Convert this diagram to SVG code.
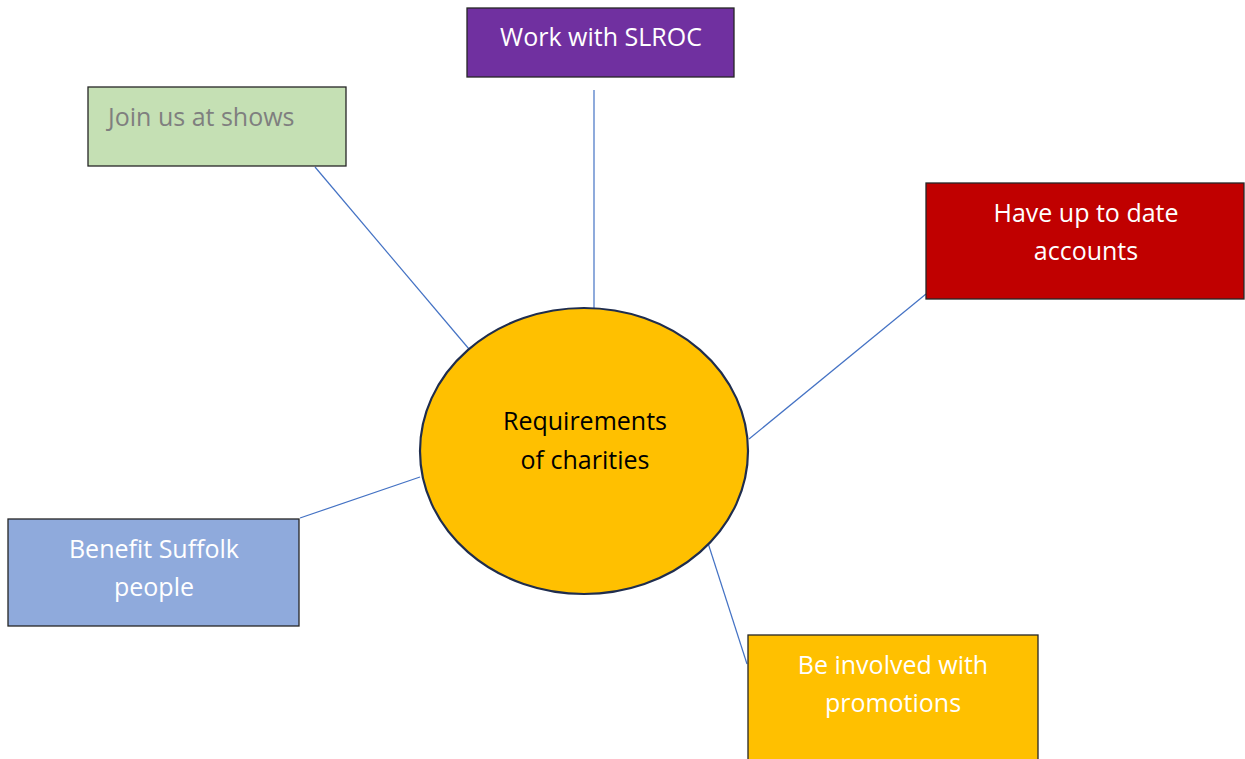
<svg xmlns="http://www.w3.org/2000/svg" width="1245" height="759" viewBox="0 0 1245 759">
<style>
.box{stroke:#262626;stroke-width:1.3}
.t{font-family:"Open Sans","Liberation Sans",sans-serif;font-size:25px;text-anchor:middle}
.w{fill:#ffffff}
.conn line{stroke:#4472c4;stroke-width:1.2}
</style>
<rect x="0" y="0" width="1245" height="759" fill="#ffffff"/>
<g id="connectors" class="conn">
<line x1="315" y1="167" x2="469" y2="349"/>
<line x1="594" y1="90" x2="594" y2="308"/>
<line x1="926" y1="294" x2="749" y2="439"/>
<line x1="300" y1="518" x2="420" y2="477"/>
<line x1="708" y1="543" x2="747" y2="664"/>
</g>
<g id="center">
<ellipse cx="584" cy="451" rx="164" ry="143" fill="#ffc000" stroke="#1f2d4e" stroke-width="2.2"/>
<text class="t" x="585" y="430" fill="#000000">Requirements</text>
<text class="t" x="585" y="469" fill="#000000">of charities</text>
</g>
<g id="work-with-slroc">
<rect class="box" x="467" y="8" width="267" height="69" fill="#7030a0"/>
<text class="t w" x="601" y="46">Work with SLROC</text>
</g>
<g id="join-us-at-shows">
<rect class="box" x="88" y="87" width="258" height="79" fill="#c5e0b4"/>
<text class="t" x="108" y="126" fill="#7f7f7f" style="text-anchor:start">Join us at shows</text>
</g>
<g id="have-up-to-date-accounts">
<rect class="box" x="926" y="183" width="318" height="116" fill="#c00000"/>
<text class="t w" x="1086" y="222">Have up to date</text>
<text class="t w" x="1086" y="260">accounts</text>
</g>
<g id="benefit-suffolk-people">
<rect class="box" x="8" y="519" width="291" height="107" fill="#8faadc"/>
<text class="t w" x="154" y="558">Benefit Suffolk</text>
<text class="t w" x="154" y="596">people</text>
</g>
<g id="be-involved-with-promotions">
<rect class="box" x="748" y="635" width="290" height="130" fill="#ffc000"/>
<text class="t w" x="893" y="674">Be involved with</text>
<text class="t w" x="893" y="712">promotions</text>
</g>
</svg>
